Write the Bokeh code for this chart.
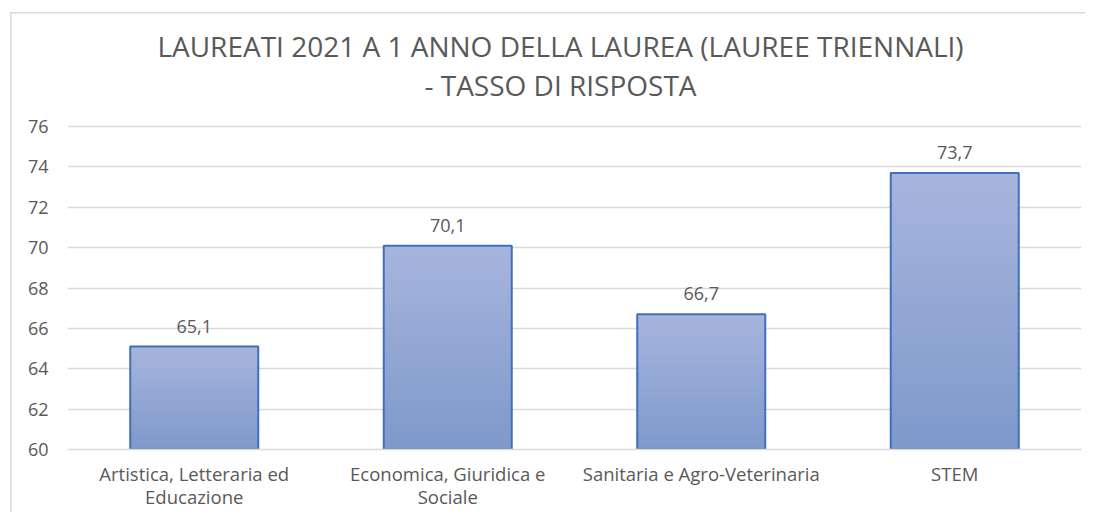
from bokeh.plotting import figure
from bokeh.models import ColumnDataSource, FixedTicker, Range1d
from bokeh.embed import file_html
from bokeh.resources import INLINE
from bokeh.core.properties import value

categories = ["Artistica, Letteraria ed\nEducazione", "Economica, Giuridica e\nSociale",
              "Sanitaria e Agro-Veterinaria", "STEM"]
values = [65.1, 70.1, 66.7, 73.7]
labels = ["65,1", "70,1", "66,7", "73,7"]
y_ticks = [60, 62, 64, 66, 68, 70, 72, 74, 76]
title_lines = ["LAUREATI 2021 A 1 ANNO DELLA LAUREA (LAUREE TRIENNALI)", "- TASSO DI RISPOSTA"]

FONT = "Open Sans"
TXT = "#595959"

p = figure(x_range=categories, y_range=Range1d(60, 81.55), width=1085, height=512,
           output_backend="svg", toolbar_location=None,
           min_border_left=67, min_border_right=4, min_border_top=14, min_border_bottom=60)
p.styles = {
    "background-image": "linear-gradient(#d9d9d9,#d9d9d9), linear-gradient(#d9d9d9,#d9d9d9)",
    "background-size": "1.5px 100%, 100% 1.5px",
    "background-position": "10px 12px, 10px 12px",
    "background-repeat": "no-repeat",
}
p.border_fill_alpha = 0
p.outline_line_color = None
p.background_fill_alpha = 0

# gradient bars: each slice runs from its own start to the bar top, drawn bottom-up
n = 40
top_c = (167, 181, 221)
bot_c = (126, 153, 203)
xs, b, t, cols = [], [], [], []
for c, v in zip(categories, values):
    h = (v - 60) / n
    for i in range(n):
        f = (i + 0.5) / n
        col = tuple(int(round(bot_c[k] + (top_c[k] - bot_c[k]) * f)) for k in range(3))
        xs.append(c)
        b.append(60 + i * h)
        t.append(v)
        cols.append("#%02x%02x%02x" % col)
p.vbar(x=xs, bottom=b, top=t, width=0.505, fill_color=cols, line_color=None)

src = ColumnDataSource(dict(x=categories, top=values, lab=labels))
p.vbar(x="x", top="top", bottom=60, width=0.505, source=src, fill_alpha=0,
       line_color="#3f6fbf", line_width=2)
p.text(x="x", y="top", text="lab", source=src, text_align="center", text_baseline="bottom",
       y_offset=-14, text_font=value(FONT), text_font_size="18px", text_color=TXT)

# chart title (two centred lines above the top gridline)
p.text(x=[2.0, 2.0], y=[max(y_ticks)] * 2, text=title_lines, x_offset=-14, y_offset=[-81, -42],
       text_align="center", text_baseline="middle", text_font=value(FONT),
       text_font_size="28px", text_color=TXT)

p.yaxis.ticker = FixedTicker(ticks=y_ticks)
p.yaxis.axis_line_color = None
p.yaxis.major_tick_line_color = None
p.yaxis.minor_tick_line_color = None
p.yaxis.major_tick_out = 0
p.yaxis.major_tick_in = 0
p.yaxis.major_label_standoff = 19
p.yaxis.major_label_text_font = FONT
p.yaxis.major_label_text_font_size = "18px"
p.yaxis.major_label_text_color = TXT

p.xaxis.axis_line_color = "#d9d9d9"
p.xaxis.axis_line_width = 1.5
p.xaxis.major_tick_line_color = None
p.xaxis.minor_tick_line_color = None
p.xaxis.major_tick_out = 0
p.xaxis.major_tick_in = 0
p.xaxis.major_label_standoff = 11
p.xaxis.major_label_text_font = FONT
p.xaxis.major_label_text_font_size = "18.5px"
p.xaxis.major_label_text_color = TXT
p.xaxis.major_label_text_line_height = 0.95

p.xgrid.grid_line_color = None
p.ygrid.grid_line_color = "#d9d9d9"
p.ygrid.grid_line_width = 1.5

open("out.html", "w").write(file_html(p, INLINE))
